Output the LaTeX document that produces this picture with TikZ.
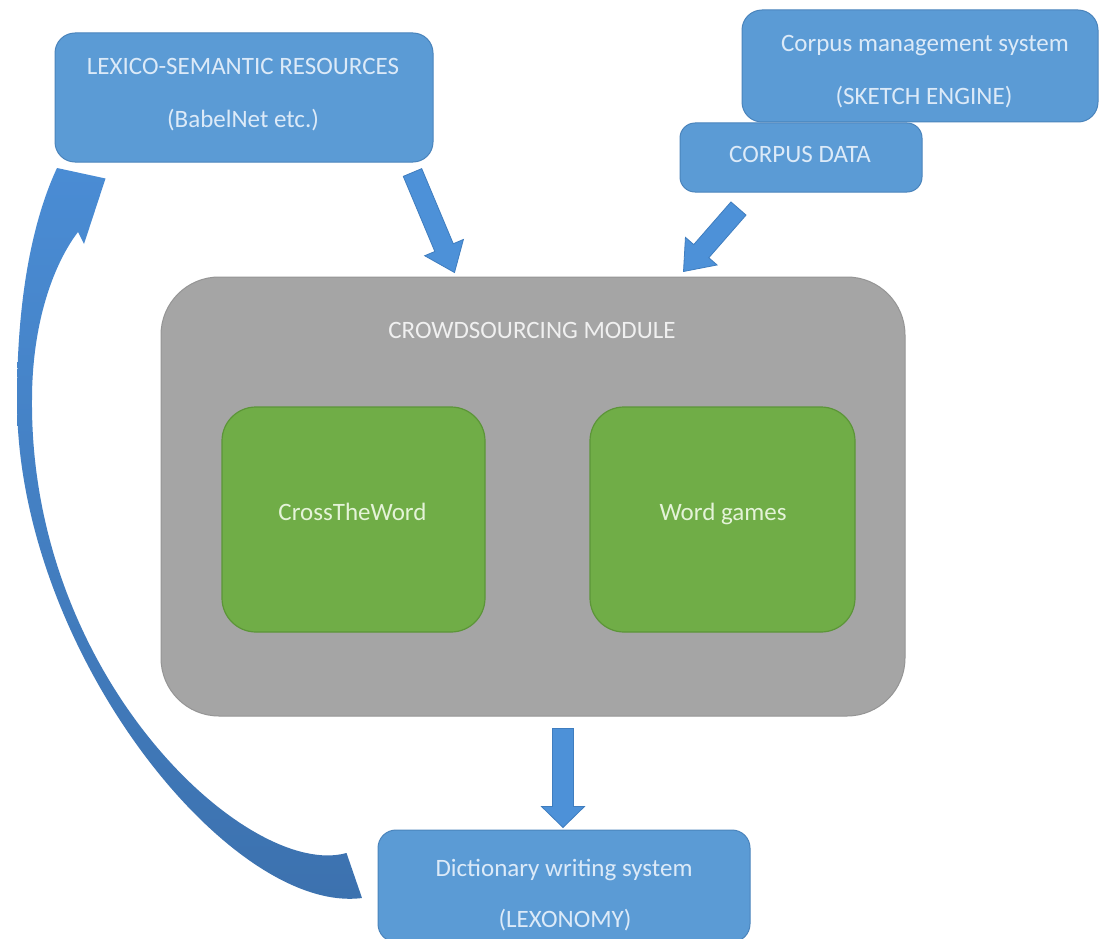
\documentclass[tikz,border=0pt]{standalone}
\usepackage{fontspec}
\setmainfont{Carlito}
\usetikzlibrary{calc}
\definecolor{boxblue}{HTML}{5B9BD5}
\definecolor{boxline}{HTML}{4A84BC}
\definecolor{bluetext}{HTML}{DCEAF8}
\definecolor{boxgray}{HTML}{A5A5A5}
\definecolor{grayline}{HTML}{959595}
\definecolor{graytext}{HTML}{F0F0F0}
\definecolor{boxgreen}{HTML}{70AD47}
\definecolor{greenline}{HTML}{5C9538}
\definecolor{greentext}{HTML}{E4F3D8}
\definecolor{arrfill}{HTML}{4D91D8}
\definecolor{arrline}{HTML}{3F7DBF}
\definecolor{curvetop}{HTML}{4A8CD4}
\definecolor{curvebot}{HTML}{3C71AE}
\newcommand\blockarrow[5]{%
  \coordinate (bab) at ($(#2)!#5!(#1)$);
  \filldraw[blockarr] ($(#1)!#3!90:(#2)$) -- ($(bab)!#3!-90:(#1)$) -- ($(bab)!#4!-90:(#1)$) -- (#2)
     -- ($(bab)!#4!90:(#1)$) -- ($(bab)!#3!90:(#1)$) -- ($(#1)!#3!-90:(#2)$) -- cycle;
}
\begin{document}
\begin{tikzpicture}[x=1pt,y=-1pt,
  bluebox/.style={draw=boxline, fill=boxblue, rounded corners=20pt, line width=1pt, inner sep=0pt},
  graybox/.style={draw=grayline, fill=boxgray, rounded corners=58pt, line width=1pt, inner sep=0pt},
  greenbox/.style={draw=greenline, fill=boxgreen, rounded corners=34pt, line width=1.2pt, inner sep=0pt},
  txt/.style={font=\fontsize{25}{30}\selectfont, text=bluetext, anchor=base, inner sep=0pt},
  graytxt/.style={txt, text=graytext},
  greentxt/.style={txt, text=greentext},
  blockarr/.style={fill=arrfill, draw=arrline, line width=0.8pt, line join=miter},
]
\useasboundingbox (0,0) rectangle (1100,939);
\fill[white] (0,0) rectangle (1100,939);

% boxes
\node[bluebox, minimum width=378pt, minimum height=129pt] (lex) at (244,97.5) {};
\node[bluebox, minimum width=356pt, minimum height=112pt] (corp) at (920,66) {};
\node[bluebox, rounded corners=15pt, minimum width=242pt, minimum height=69pt] (cdata) at (801,157.5) {};
\node[graybox, minimum width=744pt, minimum height=439pt] (crowd) at (533,496.5) {};
\node[greenbox, minimum width=263pt, minimum height=225pt] (ctw) at (353.5,519.5) {};
\node[greenbox, minimum width=265pt, minimum height=225pt] (wg) at (722.5,519.5) {};
\node[bluebox, rounded corners=18pt, minimum width=372pt, minimum height=112pt] (dict) at (564,886) {};

% texts
\node[txt] (lexa) at (243,75) {LEXICO-SEMANTIC RESOURCES};
\node[txt] (lexb) at (243,128) {(BabelNet etc.)};
\node[txt] (corpa) at (925,52) {Corpus management system};
\node[txt] (corpb) at (924,105) {(SKETCH ENGINE)};
\node[txt] (cdatat) at (800,162) {CORPUS DATA};
\node[graytxt] (crowdt) at (532,338) {CROWDSOURCING MODULE};
\node[greentxt] (ctwt) at (352.5,520) {CrossTheWord};
\node[greentxt] (wgt) at (723,520) {Word games};
\node[txt] (dicta) at (564,876) {Dictionary writing system};
\node[txt] (dictb) at (565,927) {(LEXONOMY)};

% straight block arrows
\coordinate (a1s) at ($(lex.south east)+(-21,10)$);
\coordinate (a1e) at ($(crowd.north west)+(294,-4)$);
\coordinate (a2s) at ($(cdata.south west)+(59,16)$);
\coordinate (a2e) at ($(crowd.north west)+(523,-5)$);
\coordinate (a3s) at ($(crowd.south)+(30,12)$);
\coordinate (a3e) at ($(dict.north)+(-1,-2)$);
\blockarrow{a1s}{a1e}{10pt}{21pt}{27pt}
\blockarrow{a2s}{a2e}{10pt}{21pt}{27pt}
\blockarrow{a3s}{a3e}{10.5pt}{21.5pt}{21pt}

% curved block arrow from dictionary system back to lexico-semantic resources
\coordinate (ctail) at ($(dict.west)+(-31,-33)$);
\coordinate (ctip) at ($(lex.south west)+(51,16)$);
\shade[top color=curvetop, bottom color=curvebot]
  (ctail) .. controls (250,880) and (30,680) .. (32,400)
  .. controls (32,320) and (55,262) .. (78,232)
  -- (84,244) -- (ctip) -- (57,168)
  .. controls (35,215) and (17,290) .. (17,400)
  .. controls (17,650) and (230,915) .. (362,898) -- cycle;
\end{tikzpicture}
\end{document}
